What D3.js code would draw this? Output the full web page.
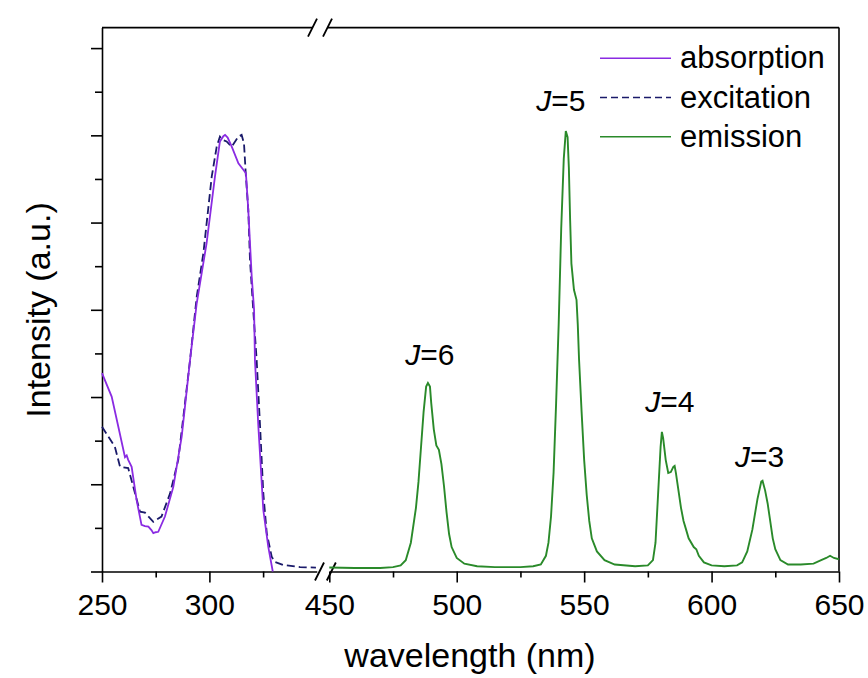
<!DOCTYPE html>
<html>
<head>
<meta charset="utf-8">
<script src="https://cdn.jsdelivr.net/npm/d3@7"></script>
<style>
	body { margin: 0; background: #ffffff; }
	text { font-family: "Liberation Sans", Arial, sans-serif; fill: #000; }
</style>
</head>
<body>
<script>
//spectra: [wavelength nm, normalized intensity]
var absorption = [
	[250, 0.455], [254.5, 0.401], [257.6, 0.332], [260.7, 0.262], [261.5, 0.266],
	[262.2, 0.256], [263.8, 0.240], [266.1, 0.164], [268.4, 0.107], [270, 0.104],
	[271.6, 0.103], [273, 0.095], [273.9, 0.088], [275, 0.090], [276.2, 0.091],
	[279.3, 0.126], [283.2, 0.194], [287.1, 0.309], [291, 0.485], [294.1, 0.615],
	[298.7, 0.753], [302.6, 0.906], [304.9, 0.986], [306.5, 0.998], [307.3, 1.001],
	[308.5, 0.995], [310.4, 0.974], [313.5, 0.936], [315.8, 0.921], [317, 0.913],
	[318.1, 0.829], [319.7, 0.676], [320.8, 0.600], [321.2, 0.485], [322.8, 0.332],
	[325.1, 0.141], [327.4, 0.057], [329.5, 0.0]
];

var excitation = [
	[250, 0.332], [256, 0.286], [258.4, 0.240], [262.2, 0.237], [265.4, 0.179],
	[267.7, 0.137], [270, 0.135], [273.9, 0.114], [277.7, 0.126], [281.7, 0.179],
	[285.5, 0.256], [291, 0.485], [294.1, 0.630], [297.2, 0.730], [301.1, 0.906],
	[303.4, 0.974], [304.9, 0.997], [306, 0.990], [308, 0.986], [310.4, 0.974],
	[313.5, 0.997], [315, 1.001], [316.1, 0.982], [317, 0.906], [318.1, 0.829],
	[318.9, 0.714], [320.4, 0.600], [322, 0.485], [323.6, 0.332], [325.1, 0.179],
	[326.7, 0.088], [329, 0.034], [330.5, 0.022], [334.3, 0.015], [342.2, 0.010],
	[349.6, 0.009]
];

var emission = [
	[450, 0.009], [460, 0.008], [470, 0.008], [475, 0.010], [478, 0.014],
	[480, 0.026], [482, 0.066], [484, 0.146], [485, 0.206], [486, 0.286],
	[487, 0.366], [488, 0.424], [488.7, 0.432], [489.5, 0.424], [490, 0.386],
	[491, 0.326], [492, 0.289], [493, 0.279], [494, 0.246], [495, 0.196],
	[496, 0.136], [497, 0.086], [498, 0.056], [500, 0.031], [503, 0.018],
	[508, 0.012], [515, 0.010], [525, 0.010], [530, 0.012], [533, 0.016],
	[535, 0.036], [536, 0.066], [537, 0.126], [538, 0.226], [539, 0.386],
	[540, 0.566], [541, 0.786], [542, 0.946], [542.8, 1.010], [543.5, 0.996],
	[544, 0.926], [544.5, 0.806], [545, 0.706], [546, 0.646], [547, 0.623],
	[547.5, 0.566], [548, 0.486], [549, 0.366], [550, 0.256], [551, 0.176],
	[552, 0.116], [553, 0.076], [555, 0.046], [558, 0.026], [562, 0.016],
	[570, 0.012], [575, 0.014], [577, 0.026], [578, 0.066], [579, 0.176],
	[580, 0.286], [580.5, 0.320], [581, 0.306], [582, 0.256], [583, 0.226],
	[584, 0.228], [585, 0.240], [585.5, 0.242], [586, 0.226], [587, 0.186],
	[588, 0.146], [589, 0.116], [590, 0.096], [591, 0.076], [593, 0.056],
	[594, 0.051], [595, 0.036], [597, 0.021], [600, 0.014], [605, 0.012],
	[610, 0.014], [612, 0.021], [614, 0.046], [616, 0.096], [618, 0.166],
	[619.5, 0.206], [620, 0.208], [621, 0.186], [622, 0.156], [623, 0.116],
	[624, 0.076], [625, 0.051], [627, 0.026], [630, 0.016], [635, 0.016],
	[640, 0.018], [643, 0.026], [645, 0.031], [646.5, 0.036], [648, 0.031],
	[650, 0.028]
];

//tick values for the two axis segments and the y axis
var leftMajor = [250, 300];
var leftMinor = [275, 325];
var rightMajor = [450, 500, 550, 600, 650];
var rightMinor = [475, 525, 575, 625];
var yMajor = [0, 0.2, 0.4, 0.6, 0.8, 1.0, 1.2];
var yMinor = [0.1, 0.3, 0.5, 0.7, 0.9, 1.1];

//legend entries and peak labels
var legendNames = ["absorption", "excitation", "emission"];
var peakLabels = [
	{ j: "6", nm: 488.7, val: 0.432 },
	{ j: "5", nm: 542.8, val: 1.010 },
	{ j: "4", nm: 580.5, val: 0.320 },
	{ j: "3", nm: 620, val: 0.208 }
];

window.onload = function(){

	var w = 868, h = 678;
	var colors = { absorption: "#8a2be2", excitation: "#1a1a6a", emission: "#2a8a2a" };

	var svg = d3.select("body")
		.append("svg")
		.attr("width", w)
		.attr("height", h);

	//broken x axis: two scales side by side
	var xLeft = d3.scaleLinear().domain([250, 350]).range([102, 316.8]);
	var xRight = d3.scaleLinear().domain([450, 650]).range([329.3, 839]);
	var y = d3.scaleLinear().domain([0, 1.247]).range([571.5, 27.6]);

	//frame: top border (with gap) and right border
	var frame = svg.append("g").attr("class", "frame")
		.attr("stroke", "#000").attr("stroke-width", 1.6);
	frame.append("line")
		.attr("x1", xLeft(250)).attr("x2", xLeft(350) - 4)
		.attr("y1", y(1.247)).attr("y2", y(1.247));
	frame.append("line")
		.attr("x1", xRight(450) - 2).attr("x2", xRight(650))
		.attr("y1", y(1.247)).attr("y2", y(1.247));
	frame.append("line")
		.attr("x1", xRight(650)).attr("x2", xRight(650))
		.attr("y1", y(1.247)).attr("y2", y(0));

	//y axis, long and short ticks, no labels
	svg.append("g")
		.attr("class", "yaxis")
		.attr("transform", "translate(" + xLeft(250) + ",0)")
		.call(d3.axisLeft(y).tickValues(yMajor).tickSize(11).tickSizeOuter(0).tickFormat(""));
	svg.append("g")
		.attr("class", "yminor")
		.attr("transform", "translate(" + xLeft(250) + ",0)")
		.call(d3.axisLeft(y).tickValues(yMinor).tickSize(7).tickFormat(""))
		.select(".domain").remove();

	//x axis segments
	svg.append("g")
		.attr("class", "xaxis")
		.attr("transform", "translate(0," + y(0) + ")")
		.call(d3.axisBottom(xLeft).tickValues(leftMajor).tickSize(11).tickPadding(11).tickSizeOuter(0).tickFormat(d3.format("d")));
	svg.append("g")
		.attr("transform", "translate(0," + y(0) + ")")
		.call(d3.axisBottom(xLeft).tickValues(leftMinor).tickSize(6).tickFormat(""))
		.select(".domain").remove();
	svg.append("g")
		.attr("class", "xaxis")
		.attr("transform", "translate(0," + y(0) + ")")
		.call(d3.axisBottom(xRight).tickValues(rightMajor).tickSize(11).tickPadding(11).tickSizeOuter(0).tickFormat(d3.format("d")));
	svg.append("g")
		.attr("transform", "translate(0," + y(0) + ")")
		.call(d3.axisBottom(xRight).tickValues(rightMinor).tickSize(6).tickFormat(""))
		.select(".domain").remove();

	//style all axes the same way
	svg.selectAll(".yaxis path, .xaxis path, g line")
		.attr("stroke", "#000").attr("stroke-width", 1.6);
	svg.selectAll(".xaxis text")
		.style("font-size", "30px")
		.style("font-family", "'Liberation Sans', Arial, sans-serif");

	//break marks (two slashes on bottom axis and top border)
	var breaks = [
		{ cx: xLeft(350) + 2.7, cy: y(0) }, { cx: xRight(450) + 2, cy: y(0) },
		{ cx: xLeft(350) - 4.3, cy: y(1.247) }, { cx: xRight(450) - 1.8, cy: y(1.247) }
	];
	svg.selectAll(".breakmark")
		.data(breaks)
		.enter()
		.append("line")
		.attr("class", "breakmark")
		.attr("x1", function(d){ return d.cx - 4.5; })
		.attr("y1", function(d){ return d.cy + 9; })
		.attr("x2", function(d){ return d.cx + 4.5; })
		.attr("y2", function(d){ return d.cy - 9; })
		.attr("stroke", "#000")
		.attr("stroke-width", 1.8);

	//line generators for each segment
	var lineLeft = d3.line()
		.x(function(d){ return xLeft(d[0]); })
		.y(function(d){ return y(d[1]); });
	var lineRight = d3.line()
		.x(function(d){ return xRight(d[0]); })
		.y(function(d){ return y(d[1]); });

	svg.append("path")
		.datum(excitation)
		.attr("class", "excitation")
		.attr("d", lineLeft)
		.attr("fill", "none")
		.attr("stroke", colors.excitation)
		.attr("stroke-width", 1.8)
		.attr("stroke-dasharray", "8,4");

	svg.append("path")
		.datum(absorption)
		.attr("class", "absorption")
		.attr("d", lineLeft)
		.attr("fill", "none")
		.attr("stroke", colors.absorption)
		.attr("stroke-width", 1.8);

	svg.append("path")
		.datum(emission)
		.attr("class", "emission")
		.attr("d", lineRight)
		.attr("fill", "none")
		.attr("stroke", colors.emission)
		.attr("stroke-width", 1.9);

	//peak labels, italic J (small nudges so they sit like the original)
	var nudgeX = { "6": 2, "5": -5, "4": 8, "3": -3 };
	var nudgeY = { "6": -18, "5": -20, "4": -20, "3": -14 };
	var labels = svg.selectAll(".jlabel")
		.data(peakLabels)
		.enter()
		.append("text")
		.attr("class", "jlabel")
		.attr("text-anchor", "middle")
		.attr("x", function(d){ return xRight(d.nm) + nudgeX[d.j]; })
		.attr("y", function(d){ return y(d.val) + nudgeY[d.j]; })
		.style("font-size", "30px");
	labels.append("tspan").style("font-style", "italic").text("J");
	labels.append("tspan").text(function(d){ return "=" + d.j; });

	//legend
	var legend = svg.selectAll(".legend")
		.data(legendNames)
		.enter()
		.append("g")
		.attr("class", "legend")
		.attr("transform", function(d, i){ return "translate(600," + (58.3 + i * 39.2) + ")"; });
	legend.append("line")
		.attr("x1", 0).attr("x2", 71)
		.attr("y1", 0).attr("y2", 0)
		.attr("stroke", function(d){ return colors[d]; })
		.attr("stroke-width", 1.6)
		.attr("stroke-dasharray", function(d){ return d === "excitation" ? "7,4" : null; });
	legend.append("text")
		.attr("x", 80)
		.attr("y", 10)
		.style("font-size", "31px")
		.text(function(d){ return d; });

	//axis titles
	svg.append("text")
		.attr("text-anchor", "middle")
		.attr("x", 470)
		.attr("y", 667)
		.style("font-size", "34px")
		.text("wavelength (nm)");
	svg.append("text")
		.attr("text-anchor", "middle")
		.attr("transform", "translate(50,310) rotate(-90)")
		.style("font-size", "34px")
		.text("Intensity (a.u.)");
};
</script>
</body>
</html>
